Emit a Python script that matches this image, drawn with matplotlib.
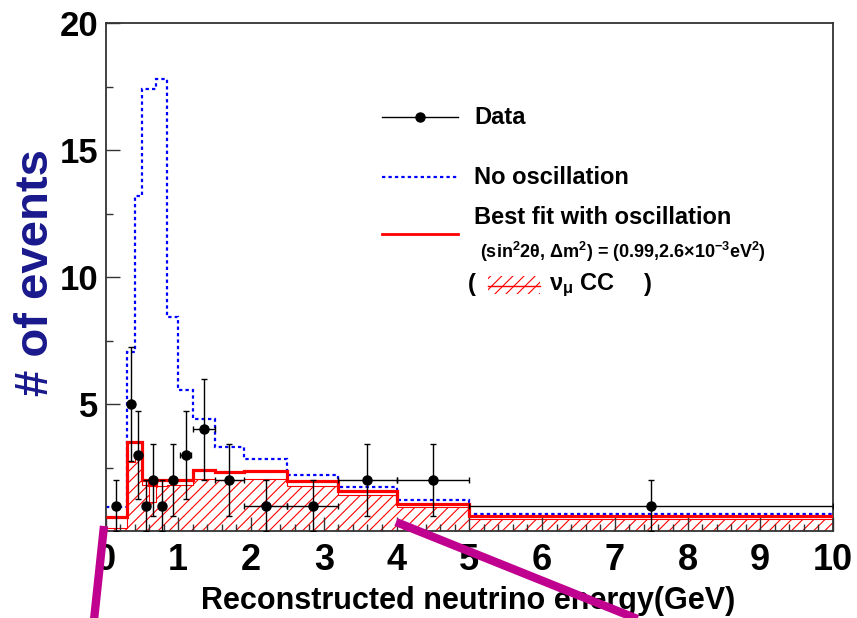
import numpy as np
import matplotlib
matplotlib.use("Agg")
import matplotlib.pyplot as plt
import matplotlib.transforms as mtransforms
from matplotlib.lines import Line2D
from matplotlib.patches import Rectangle

plt.rcParams['font.family'] = ['Liberation Sans', 'DejaVu Sans']
plt.rcParams['font.weight'] = 'bold'
plt.rcParams['mathtext.fontset'] = 'custom'
plt.rcParams['mathtext.rm'] = 'Liberation Sans:bold'
plt.rcParams['mathtext.bf'] = 'Liberation Sans:bold'
plt.rcParams['mathtext.it'] = 'Liberation Sans:italic:bold'
plt.rcParams['hatch.linewidth'] = 0.8

# Energy binning (GeV) of the expectation histograms
bin_edges = [0.0, 0.3, 0.4, 0.5, 0.6, 0.7, 0.85, 1.0, 1.2, 1.5, 1.9, 2.5, 3.2, 4.0, 5.0, 10.0]

# Expected events without oscillation
no_oscillation = [0.95, 7.05, 13.2, 17.4, 17.4, 17.8, 8.45, 5.55, 4.4, 3.32, 2.82, 2.2, 1.72, 1.22, 0.68]

# Best-fit expectation with oscillation
best_fit = [0.56, 3.52, 3.52, 2.0, 1.8, 2.0, 2.0, 2.0, 2.4, 2.31, 2.37, 1.96, 1.59, 1.08, 0.58]

# nu_mu CC component of the best fit
numu_cc = [0.13, 2.7, 2.85, 1.8, 1.15, 1.78, 1.8, 1.8, 2.05, 2.0, 2.05, 1.77, 1.42, 0.95, 0.47]

# Observed events
data_energy = [0.15, 0.35, 0.45, 0.55, 0.65, 0.775, 0.925, 1.1, 1.35, 1.7, 2.2, 2.85, 3.6, 4.5, 7.5]
data_counts = [1, 5, 3, 1, 2, 1, 2, 3, 4, 2, 1, 1, 2, 2, 1]
data_xerr = [0, 0, 0, 0, 0, 0, 0, 0.075, 0.15, 0.2, 0.3, 0.35, 0.4, 0.5, 2.5]

W, H = 857, 618
fig = plt.figure(figsize=(W / 100, H / 100), dpi=100)
ax = fig.add_axes([105.5 / W, (H - 531) / H, 727.5 / W, 507.6 / H])

# pixel coordinates measured from the top-left corner of the figure
px = mtransforms.Affine2D().scale(1 / W, -1 / H).translate(0, 1) + fig.transFigure

red = '#ff0000'
blue = '#0000ff'

ax.stairs(numu_cc, bin_edges, fill=True, facecolor='none', edgecolor=red,
          hatch='///', linewidth=0.8, zorder=1)
ax.stairs(best_fit, bin_edges, color=red, linewidth=2.3, baseline=None, zorder=3)
ax.stairs(no_oscillation, bin_edges, color=blue, linewidth=1.6,
          linestyle=(0, (1.5, 1.4)), baseline=None, zorder=2)

counts = np.array(data_counts, dtype=float)
yerr = np.sqrt(counts)
ax.errorbar(data_energy, counts, yerr=yerr, xerr=data_xerr, fmt='o', color='black',
            markersize=6.5, elinewidth=1.0, capsize=2.5, capthick=1.0, zorder=5)

ax.set_xlim(0, 10)
ax.set_ylim(0, 20)
ax.set_xticks(np.arange(0, 11, 1))
ax.set_xticks(np.arange(0, 10.01, 0.2), minor=True)
ax.set_yticks([5, 10, 15, 20])
ax.set_yticks([2.5, 7.5, 12.5, 17.5], minor=True)
ax.tick_params(axis='both', which='both', direction='in', top=False, right=False,
               width=1.0, color='#333333')
ax.tick_params(axis='x', labelsize=26, pad=9)
ax.tick_params(axis='y', labelsize=25, pad=5)
ax.tick_params(axis='both', which='major', length=10)
ax.tick_params(axis='both', which='minor', length=5)
for lab in ax.get_xticklabels() + ax.get_yticklabels():
    lab.set_fontweight('bold')
for s in ax.spines.values():
    s.set_linewidth(1.3)
    s.set_color('#333333')

ax.set_xlabel('Reconstructed neutrino energy(GeV)', fontsize=22, fontweight='bold', va='center')
ax.xaxis.set_label_coords(0.498, -0.137)
ax.set_ylabel('# of events', fontsize=34, fontweight='bold', color='#19198c', va='center')
ax.yaxis.set_label_coords(-0.0955, 0.51)

# Legend block
fs = 17
fig.add_artist(Line2D([382, 458], [117, 117], transform=px, color='black', linewidth=1.0))
fig.add_artist(Line2D([420], [117], transform=px, color='black', marker='o', markersize=6.5))
fig.text(474, 118, 'Data', transform=px, fontsize=fs, fontweight='bold', va='center', ha='left')

fig.add_artist(Line2D([382, 458], [177, 177], transform=px, color=blue, linewidth=1.6,
                      linestyle=(0, (1.5, 1.4))))
fig.text(474, 177, 'No oscillation', transform=px, fontsize=fs, fontweight='bold', va='center', ha='left')

fig.add_artist(Line2D([382, 458], [234, 234], transform=px, color=red, linewidth=2.0))
fig.text(474, 218, 'Best fit with oscillation', transform=px, fontsize=fs, fontweight='bold',
         va='center', ha='left')
fig.text(480, 252, '(sin$^{2}$2θ, Δm$^{2}$) = (0.99,2.6×10$^{-3}$eV$^{2}$)', transform=px,
         fontsize=13, fontweight='bold', va='center', ha='left')

fig.text(468, 285, '(', transform=px, fontsize=fs, fontweight='bold', va='center', ha='left')
fig.add_artist(Rectangle((488, 276), 52, 18, transform=px, facecolor='none', edgecolor=red,
                         linewidth=0, hatch='///'))
fig.add_artist(Line2D([488, 540], [286, 286], transform=px, color=red, linewidth=1.0))
fig.text(549, 285, r'ν$_{\mathrm{μ}}$ CC', transform=px, fontsize=fs, fontweight='bold',
         va='center', ha='left')
fig.text(644, 285, ')', transform=px, fontsize=fs, fontweight='bold', va='center', ha='left')

# Magenta pointer strokes
magenta = '#c0008f'
fig.add_artist(Line2D([104, 94], [526, 620], transform=px, color=magenta, linewidth=6,
                      solid_capstyle='butt', zorder=10))
fig.add_artist(Line2D([396, 640], [522, 620], transform=px, color=magenta, linewidth=6,
                      solid_capstyle='butt', zorder=10))

fig.savefig('out.png', dpi=100)
